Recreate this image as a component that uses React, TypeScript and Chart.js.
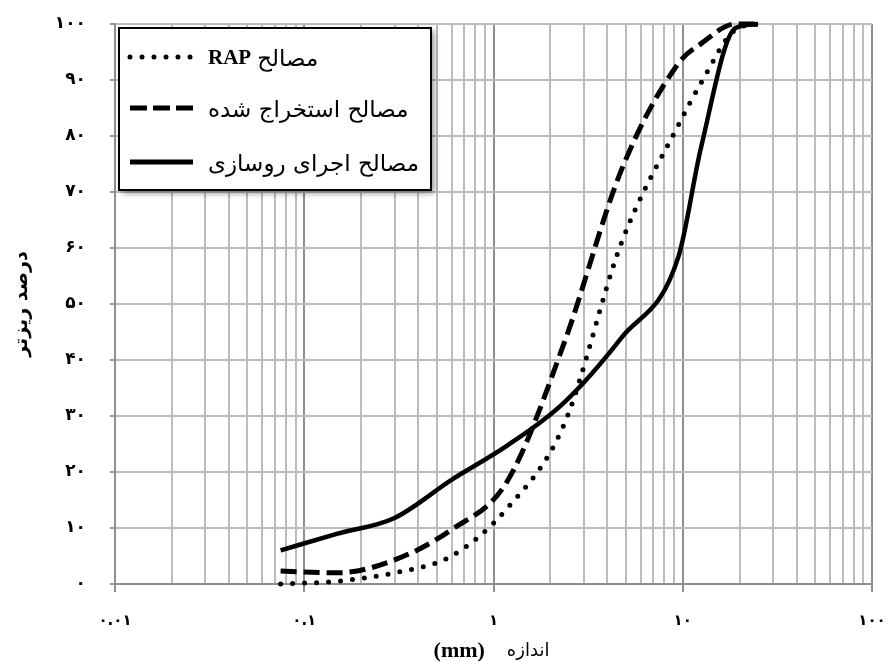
import React, { useEffect, useRef } from 'react';
import { Chart, registerables } from 'chart.js';

Chart.register(...registerables);

// ---- data ----
const sieveSizes = [0.075, 0.15, 0.3, 0.6, 1.18, 2.36, 4.75, 9.5, 12.5, 19, 25];
const rapPassing = [0, 0.5, 2, 5, 13.5, 28.5, 61, 82, 89.5, 99, 100];
const extractedPassing = [2.3, 2, 4.3, 9.7, 18.3, 43, 74, 93, 96.5, 100, 100];
const pavingPassing = [6, 9, 11.8, 18.6, 24.7, 32.4, 44, 58.5, 78, 99.3, 100];

const xDecades = [0.01, 0.1, 1, 10, 100];
const yTicks = [0, 10, 20, 30, 40, 50, 60, 70, 80, 90, 100];

const legendRap = ['RAP', 'مصالح'];
const legendExtracted = 'مصالح استخراج شده';
const legendPaving = 'مصالح اجرای روسازی';
const yTitle = 'درصد ریزتر';
const xTitleWord = 'اندازه';
const xTitleUnit = '(mm)';

const persianDigits = '۰۱۲۳۴۵۶۷۸۹';
const toPersian = (v: number | string) => String(v).replace(/\d/g, (d) => persianDigits[+d]);

const isDecade = (v: number) => {
  const l = Math.log10(v);
  return Math.abs(l - Math.round(l)) < 1e-9;
};

const gridValues: number[] = [];
for (let i = 0; i < xDecades.length - 1; i++) {
  for (let k = 1; k <= 9; k++) gridValues.push(Number((k * xDecades[i]).toPrecision(6)));
}
gridValues.push(xDecades[xDecades.length - 1]);

const toPoints = (vals: number[]) => sieveSizes.map((s, i) => ({ x: s, y: vals[i] }));

const ARABIC_FONT = "'DejaVu Sans', sans-serif";
const SERIF_FONT = "'Liberation Serif', 'Times New Roman', serif";

const textPlugin = {
  id: 'customText',
  afterDraw(chart: any) {
    const ctx: CanvasRenderingContext2D = chart.ctx;
    const area = chart.chartArea;
    ctx.save();

    // legend box
    const bx = area.left + 4;
    const by = area.top + 4;
    const bw = 312;
    const bh = 162;
    ctx.save();
    ctx.shadowColor = 'rgba(0,0,0,0.45)';
    ctx.shadowBlur = 6;
    ctx.shadowOffsetX = 3;
    ctx.shadowOffsetY = 3;
    ctx.fillStyle = '#fff';
    ctx.fillRect(bx, by, bw, bh);
    ctx.restore();
    ctx.strokeStyle = '#000';
    ctx.lineWidth = 2;
    ctx.strokeRect(bx, by, bw, bh);

    const sx0 = bx + 11;
    const sx1 = bx + 74;
    const tx = bx + 89;
    const rows = [by + 29, by + 80, by + 134];

    const drawSample = (y: number, dash: number[], cap: CanvasLineCap, w: number) => {
      ctx.beginPath();
      ctx.setLineDash(dash);
      ctx.lineCap = cap;
      ctx.lineWidth = w;
      ctx.strokeStyle = '#000';
      ctx.moveTo(sx0, y);
      ctx.lineTo(sx1, y);
      ctx.stroke();
    };
    drawSample(rows[0], [0, 12], 'round', 5);
    drawSample(rows[1], [17, 6], 'butt', 5);
    drawSample(rows[2], [], 'butt', 5);
    ctx.setLineDash([]);

    ctx.fillStyle = '#000';
    ctx.textBaseline = 'middle';
    ctx.textAlign = 'left';
    ctx.font = `bold 21px ${SERIF_FONT}`;
    ctx.fillText(legendRap[0], tx, rows[0] + 2);
    const wRap = ctx.measureText(legendRap[0]).width;
    ctx.font = `23px ${ARABIC_FONT}`;
    ctx.fillText(legendRap[1], tx + wRap + 6, rows[0] + 3);
    ctx.fillText(legendExtracted, tx, rows[1] + 3);
    ctx.fillText(legendPaving, tx, rows[2] + 3);

    // x title
    const cx = (area.left + area.right) / 2;
    const ty = 651;
    ctx.font = `18px ${ARABIC_FONT}`;
    const wWord = ctx.measureText(xTitleWord).width;
    ctx.font = `bold 22px ${SERIF_FONT}`;
    const wUnit = ctx.measureText(xTitleUnit).width;
    const gap = 22;
    const total = wWord + gap + wUnit;
    const startX = cx - total / 2 - 2;
    ctx.fillText(xTitleUnit, startX, ty);
    ctx.font = `18px ${ARABIC_FONT}`;
    ctx.fillText(xTitleWord, startX + wUnit + gap, ty);

    // y title
    ctx.save();
    ctx.translate(22, (area.top + area.bottom) / 2);
    ctx.rotate(-Math.PI / 2);
    ctx.textAlign = 'center';
    ctx.font = `bold 19px ${ARABIC_FONT}`;
    ctx.fillText(yTitle, 0, 0);
    ctx.restore();

    ctx.restore();
  },
};

export default function App() {
  const canvasRef = useRef<HTMLCanvasElement | null>(null);

  useEffect(() => {
    document.body.style.margin = '0';
    const canvas = canvasRef.current;
    if (!canvas) return;
    const xTickFont = { family: ARABIC_FONT, weight: 'bold' as const, size: 15 };
    const yTickFont = { family: ARABIC_FONT, weight: 'bold' as const, size: 17 };
    const chart = new Chart(canvas, {
      type: 'line',
      data: {
        datasets: [
          {
            label: 'rap',
            data: toPoints(rapPassing),
            borderColor: '#000',
            borderWidth: 5,
            borderDash: [0, 12],
            borderCapStyle: 'round',
            pointRadius: 0,
            fill: false,
            cubicInterpolationMode: 'monotone',
            clip: false as any,
          },
          {
            label: 'extracted',
            data: toPoints(extractedPassing),
            borderColor: '#000',
            borderWidth: 5,
            borderDash: [16, 7],
            borderCapStyle: 'butt',
            pointRadius: 0,
            fill: false,
            cubicInterpolationMode: 'monotone',
            clip: false as any,
          },
          {
            label: 'paving',
            data: toPoints(pavingPassing),
            borderColor: '#000',
            borderWidth: 4.5,
            pointRadius: 0,
            fill: false,
            cubicInterpolationMode: 'monotone',
            clip: false as any,
          },
        ],
      },
      options: {
        responsive: false,
        animation: false,
        layout: { padding: { top: 24, right: 18, left: 0, bottom: 0 } },
        plugins: {
          legend: { display: false },
          tooltip: { enabled: false },
          title: { display: false },
        },
        scales: {
          x: {
            type: 'logarithmic',
            min: 0.01,
            max: 100,
            afterBuildTicks: (scale: any) => {
              scale.ticks = gridValues.map((v) => ({ value: v }));
            },
            afterFit: (scale: any) => {
              scale.height = 78;
              scale.paddingLeft = 0;
              scale.paddingRight = 0;
            },
            ticks: {
              autoSkip: false,
              maxRotation: 0,
              minRotation: 0,
              color: '#000',
              font: xTickFont,
              padding: 20,
              callback: (v: any) => (isDecade(Number(v)) ? toPersian(Number(v)) : ''),
            },
            grid: {
              color: (c: any) => (c.tick && isDecade(c.tick.value) ? '#8e8e8e' : '#bcbcbc'),
              lineWidth: 2,
              tickLength: 8,
              tickColor: (c: any) => (c.tick && isDecade(c.tick.value) ? '#8e8e8e' : 'rgba(0,0,0,0)'),
            },
            border: { color: '#8e8e8e', width: 2 },
          },
          y: {
            type: 'linear',
            min: 0,
            max: 100,
            afterBuildTicks: (scale: any) => {
              scale.ticks = yTicks.map((v) => ({ value: v }));
            },
            afterFit: (scale: any) => {
              scale.width = 115;
              scale.paddingTop = 0;
              scale.paddingBottom = 0;
            },
            ticks: {
              color: '#000',
              font: yTickFont,
              padding: 24,
              callback: (v: any) => toPersian(Number(v)),
            },
            grid: {
              color: '#bcbcbc',
              lineWidth: 2,
              tickLength: 5,
              tickColor: '#9a9a9a',
            },
            border: { color: '#8e8e8e', width: 2 },
          },
        },
      } as any,
      plugins: [textPlugin],
    });
    return () => chart.destroy();
  }, []);

  return (
    <div style={{ width: 890, height: 662, position: 'relative', background: '#fff' }}>
      <canvas ref={canvasRef} width={890} height={662} />
    </div>
  );
}
